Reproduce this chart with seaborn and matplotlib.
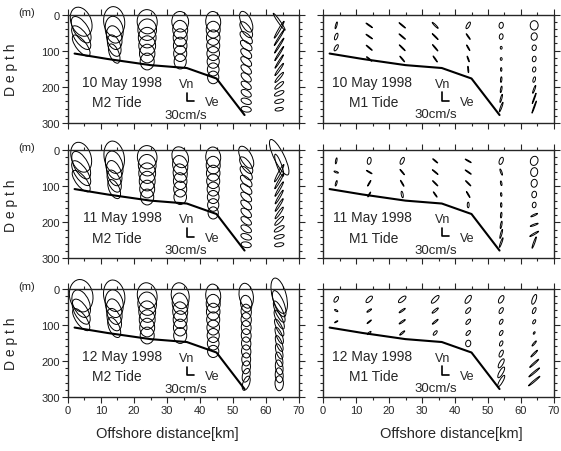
import numpy as np
import matplotlib
matplotlib.use("Agg")
import matplotlib.pyplot as plt
import seaborn as sns
from matplotlib.patches import Ellipse
from matplotlib.transforms import ScaledTranslation
from matplotlib.ticker import MultipleLocator

sns.set_style("ticks")
plt.rcParams['font.family'] = ['Liberation Sans', 'DejaVu Sans']

# station positions and bottom profile
stations_km = [4, 14, 24, 34, 44, 54, 64]
bottom_km = [2, 12, 25, 36, 45, 53.5]
bottom_depth = [108, 123, 140, 148, 177, 278]

# bin depths (m) of the ellipses
m2_depths = [20, 42, 64, 86, 108, 130, 152, 174, 196, 218, 240, 262]
m1_depths = [30, 61, 92, 123, 152, 180, 207, 232, 256]

# M2 ellipses, 10 May (semi-major / semi-minor in cm/s, angle in deg from east)
m2_10_major = [[65, 64, 60, 55], [65, 58, 52, 48, 44], [52, 46, 44, 42, 40, 36],
               [44, 40, 38, 36, 34, 32], [44, 36, 33, 31, 30, 29, 28, 27],
               [48, 40, 34, 30, 28, 28, 27, 26, 25, 24, 23, 22],
               [44, 42, 40, 38, 36, 34, 32, 28, 24, 22, 20, 18]]
m2_10_minor = [[43, 30, 26, 22], [45, 38, 32, 26, 20], [43, 40, 38, 36, 33, 30],
               [36, 32, 30, 29, 28, 26], [32, 30, 29, 28, 27, 26, 25, 24],
               [22, 18, 16, 15, 15, 14, 14, 14, 13, 13, 12, 12],
               [5, 4, 3, 3, 3, 3, 4, 5, 7, 8, 8, 7]]
m2_10_angle = [[112, 122, 126, 128], [97, 100, 105, 110, 112], [95, 90, 90, 90, 90, 90],
               [95, 95, 92, 90, 90, 90], [95, 90, 90, 90, 90, 90, 90, 90],
               [115, 125, 135, 140, 140, 140, 140, 140, 145, 150, 160, 170],
               [125, 60, 58, 58, 58, 58, 55, 50, 40, 25, 15, 10]]

# M2 ellipses, 11 May
m2_11_major = [[66, 65, 62, 56], [70, 62, 56, 50, 44], [50, 46, 44, 42, 38, 34],
               [46, 42, 40, 36, 34, 32], [44, 38, 34, 32, 30, 28, 27, 26],
               [52, 42, 36, 32, 30, 28, 28, 27, 26, 25, 24, 22],
               [84, 50, 42, 38, 36, 34, 32, 30, 26, 24, 22, 20]]
m2_11_minor = [[42, 30, 26, 22], [43, 36, 30, 26, 22], [42, 38, 36, 34, 32, 28],
               [34, 32, 30, 29, 28, 27], [32, 30, 29, 28, 26, 25, 24, 22],
               [24, 18, 16, 15, 15, 14, 14, 14, 13, 13, 12, 12],
               [22, 10, 5, 4, 4, 4, 4, 5, 7, 8, 8, 8]]
m2_11_angle = [[108, 118, 124, 128], [100, 104, 108, 112, 115], [95, 95, 92, 90, 90, 90],
               [110, 105, 100, 95, 92, 90], [95, 92, 90, 90, 90, 90, 90, 90],
               [118, 125, 130, 135, 138, 140, 140, 140, 145, 150, 160, 170],
               [116, 110, 62, 60, 60, 60, 58, 55, 45, 30, 15, 10]]

# M2 ellipses, 12 May
m2_12_major = [[70, 62, 60, 56], [68, 60, 56, 50, 46], [56, 50, 46, 42, 40, 36],
               [56, 46, 42, 38, 36, 34], [50, 40, 36, 33, 32, 30, 28, 26],
               [54, 36, 32, 30, 30, 29, 28, 28, 28, 28, 30, 32],
               [78, 60, 50, 44, 40, 38, 36, 34, 32, 32, 32, 32]]
m2_12_minor = [[50, 35, 28, 22], [45, 38, 32, 28, 22], [42, 40, 36, 34, 32, 30],
               [38, 34, 32, 30, 29, 28], [32, 30, 29, 28, 27, 26, 25, 24],
               [30, 24, 22, 22, 21, 21, 20, 20, 19, 18, 16, 14],
               [30, 20, 15, 13, 12, 12, 12, 13, 14, 16, 17, 18]]
m2_12_angle = [[100, 112, 120, 125], [100, 100, 105, 110, 115], [100, 95, 95, 90, 90, 90],
               [100, 100, 95, 92, 90, 90], [95, 92, 90, 90, 90, 90, 90, 90],
               [100, 100, 95, 95, 95, 95, 95, 95, 90, 80, 75, 70],
               [105, 112, 115, 115, 115, 112, 110, 108, 105, 100, 95, 90]]

# M1 ellipses, 10 May
m1_10_major = [[15, 15, 15], [17, 17, 17, 15], [18, 18, 18, 16], [18, 18, 18, 16],
               [16, 15, 14, 13, 14], [13, 12, 6, 6, 8, 12, 14, 18, 22],
               [20, 16, 12, 12, 11, 12, 18, 24, 28]]
m1_10_minor = [[3, 6, 6], [2, 2, 2, 2], [2, 2, 2, 2], [3, 2, 2, 2],
               [6, 2, 2, 2, 2], [9, 8, 4, 4, 3, 3, 3, 3, 3],
               [17, 13, 9, 8, 7, 5, 3, 2, 2]]
m1_10_angle = [[75, 70, 60], [145, 145, 140, 140], [140, 140, 135, 130], [135, 135, 130, 125],
               [60, 125, 120, 110, 95], [80, 80, 90, 90, 90, 85, 80, 75, 70],
               [90, 80, 80, 80, 80, 75, 70, 70, 70]]

# M1 ellipses, 11 May
m1_11_major = [[13, 10, 12], [15, 14, 14, 12], [16, 15, 15, 14], [14, 16, 16, 14],
               [15, 16, 16, 15, 12], [16, 14, 10, 8, 10, 12, 16, 20, 22],
               [20, 19, 17, 14, 12, 16, 18, 22, 26]]
m1_11_minor = [[3, 3, 3], [8, 2, 2, 2], [7, 2, 2, 4], [2, 2, 2, 2],
               [2, 2, 2, 2, 4], [8, 3, 3, 3, 3, 3, 3, 3, 3],
               [16, 15, 13, 10, 8, 3, 3, 3, 3]]
m1_11_angle = [[80, 160, 75], [80, 150, 60, 60], [65, 130, 120, 100], [140, 140, 135, 125],
               [150, 145, 135, 120, 90], [70, 110, 100, 95, 90, 85, 80, 75, 70],
               [70, 80, 80, 80, 80, 25, 20, 30, 70]]

# M1 ellipses, 12 May
m1_12_major = [[14, 8, 8], [18, 12, 12, 10], [20, 16, 16, 14], [22, 17, 16, 12],
               [20, 15, 14, 13, 14], [18, 14, 12, 12, 12, 16, 22, 26, 28],
               [22, 14, 10, 6, 14, 20, 26, 30, 32]]
m1_12_minor = [[7, 3, 2], [8, 3, 2, 3], [8, 3, 3, 3], [8, 4, 3, 5],
               [9, 7, 6, 6, 11], [9, 7, 6, 6, 6, 7, 8, 8, 7],
               [8, 6, 5, 3, 3, 3, 3, 3, 3]]
m1_12_angle = [[55, 150, 30], [45, 35, 40, 40], [40, 35, 35, 40], [45, 40, 40, 50],
               [55, 50, 50, 50, 80], [60, 60, 60, 60, 65, 65, 60, 60, 60],
               [70, 65, 60, 60, 50, 45, 42, 40, 40]]

dates = ["10 May 1998", "11 May 1998", "12 May 1998"]
scale_speed = 30  # cm/s
inch_per_cms = 7.0 / 30 / 100  # 30 cm/s drawn as 7 px

fig = plt.figure(figsize=(5.61, 4.52), dpi=100)
row_bottoms = [0.7257, 0.4259, 0.1195]
col_lefts = [0.1212, 0.5758]
col_widths = [0.4118, 0.4117]
h = 0.24

panels = [
    [(m2_10_major, m2_10_minor, m2_10_angle, m2_depths, "M2 Tide"),
     (m1_10_major, m1_10_minor, m1_10_angle, m1_depths, "M1 Tide")],
    [(m2_11_major, m2_11_minor, m2_11_angle, m2_depths, "M2 Tide"),
     (m1_11_major, m1_11_minor, m1_11_angle, m1_depths, "M1 Tide")],
    [(m2_12_major, m2_12_minor, m2_12_angle, m2_depths, "M2 Tide"),
     (m1_12_major, m1_12_minor, m1_12_angle, m1_depths, "M1 Tide")],
]

for r in range(3):
    for c in range(2):
        majors, minors, angles, depths, tide = panels[r][c]
        ax = fig.add_axes([col_lefts[c], row_bottoms[r], col_widths[c], h])
        ax.set_xlim(0, 70)
        ax.set_ylim(300, 0)

        sns.lineplot(x=bottom_km, y=bottom_depth, ax=ax, color='k', lw=1.5,
                     sort=False, estimator=None)

        for k, x0 in enumerate(stations_km):
            for d, a, b, th in zip(depths, majors[k], minors[k], angles[k]):
                tr = fig.dpi_scale_trans + ScaledTranslation(x0, d, ax.transData)
                ax.add_patch(Ellipse((0, 0), 2 * a * inch_per_cms, 2 * b * inch_per_cms,
                                     angle=th, transform=tr, fill=False,
                                     ec='k', lw=0.7, clip_on=False))

        # velocity scale
        if c == 0:
            cx, cy = 0.515, 0.20
            ax.text(0.515, 0.36, "Vn", transform=ax.transAxes, ha='center', va='center', fontsize=9)
            ax.text(0.625, 0.19, "Ve", transform=ax.transAxes, ha='center', va='center', fontsize=9)
            ax.text(0.51, 0.075, "30cm/s", transform=ax.transAxes, ha='center', va='center', fontsize=9.5)
            ax.text(0.234, 0.38, dates[r], transform=ax.transAxes, ha='center', va='center', fontsize=10)
            ax.text(0.212, 0.19, tide, transform=ax.transAxes, ha='center', va='center', fontsize=10)
        else:
            cx, cy = 0.515, 0.205
            ax.text(0.52, 0.36, "Vn", transform=ax.transAxes, ha='center', va='center', fontsize=9)
            ax.text(0.625, 0.19, "Ve", transform=ax.transAxes, ha='center', va='center', fontsize=9)
            ax.text(0.49, 0.08, "30cm/s", transform=ax.transAxes, ha='center', va='center', fontsize=9.5)
            ax.text(0.213, 0.38, dates[r], transform=ax.transAxes, ha='center', va='center', fontsize=10)
            ax.text(0.22, 0.19, tide, transform=ax.transAxes, ha='center', va='center', fontsize=10)
        L = scale_speed * inch_per_cms
        tr = fig.dpi_scale_trans + ScaledTranslation(cx, cy, ax.transAxes)
        ax.plot([0, 0, L], [L * 1.2, 0, 0], color='k', lw=1.2, transform=tr)

        ax.xaxis.set_major_locator(MultipleLocator(10))
        ax.xaxis.set_minor_locator(MultipleLocator(5))
        ax.yaxis.set_major_locator(MultipleLocator(100))
        ax.yaxis.set_minor_locator(MultipleLocator(20))
        ax.tick_params(which='both', direction='out', top=True, right=True,
                       labelsize=8, width=0.8)
        ax.tick_params(which='major', length=4, pad=2)
        ax.tick_params(which='minor', length=2)
        ax.tick_params(labelbottom=(r == 2), labelleft=(c == 0))
        for s in ax.spines.values():
            s.set_linewidth(1.0)
        ax.set_xlabel("")
        ax.set_ylabel("")

        if c == 0:
            ax.annotate("(m)", xy=(0, 1), xycoords='axes fraction', xytext=(-30, 2),
                        textcoords='offset points', ha='center', va='center', fontsize=8)
            yc = row_bottoms[r] + h / 2
            fig.text(0.02, yc, "D e p t h", rotation=90, ha='center', va='center', fontsize=10)

fig.text(0.298, 0.04, "Offshore distance[km]", ha='center', va='center', fontsize=10.5)
fig.text(0.804, 0.04, "Offshore distance[km]", ha='center', va='center', fontsize=10.5)

fig.savefig("out.png", dpi=100)
